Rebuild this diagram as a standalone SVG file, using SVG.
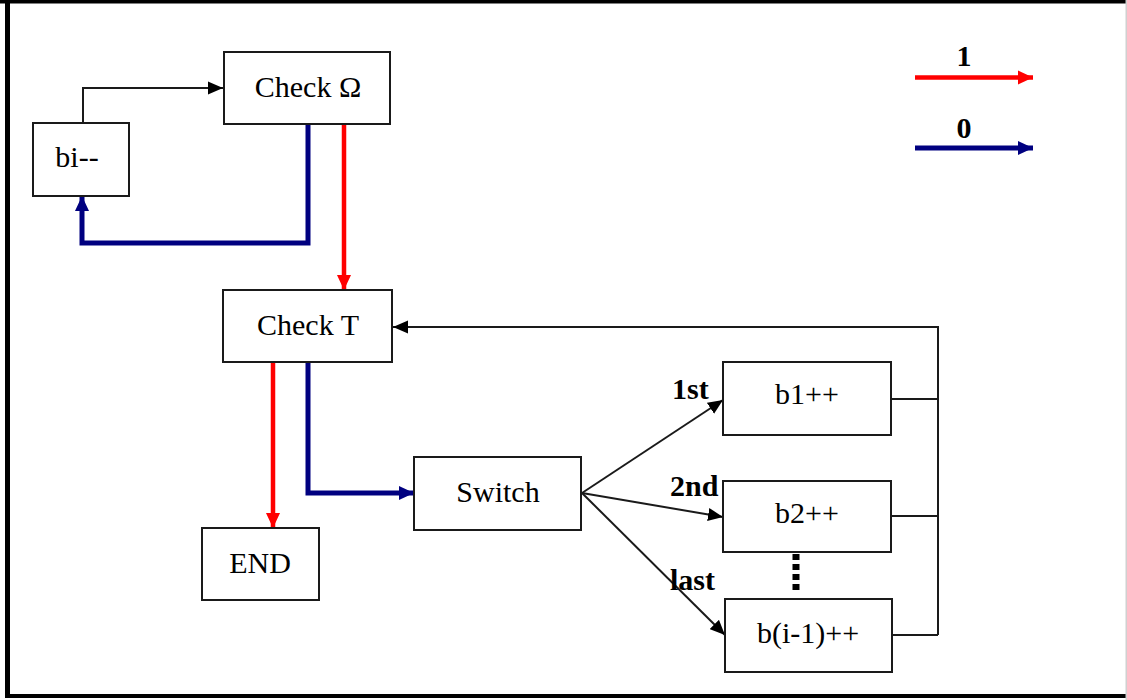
<svg xmlns="http://www.w3.org/2000/svg" width="1127" height="700" viewBox="0 0 1127 700">
<style>
.box{fill:#fff;stroke:#1a1a1a;stroke-width:2}
.t{font-family:"Liberation Serif","Times New Roman",serif;font-size:30px;fill:#000;text-anchor:middle}
.lb{font-family:"Liberation Serif","Times New Roman",serif;font-size:30px;font-weight:bold;fill:#000}
.k{fill:none;stroke:#1a1a1a;stroke-width:2}
.r{fill:none;stroke:#ff0000;stroke-width:4.5}
.b{fill:none;stroke:#000080;stroke-width:5}
</style>
<defs>
<marker id="ak" markerUnits="userSpaceOnUse" markerWidth="16" markerHeight="14" refX="15" refY="7" orient="auto"><path d="M0,0.5 L15,7 L0,13.5 z" fill="#000"/></marker>
<marker id="ar" markerUnits="userSpaceOnUse" markerWidth="16" markerHeight="15" refX="15" refY="7.5" orient="auto"><path d="M0,0.5 L15,7.5 L0,14.5 z" fill="#ff0000"/></marker>
<marker id="ab" markerUnits="userSpaceOnUse" markerWidth="16" markerHeight="15" refX="15" refY="7.5" orient="auto"><path d="M0,0.5 L15,7.5 L0,14.5 z" fill="#000080"/></marker>
</defs>
<rect x="0" y="0" width="1127" height="700" fill="#fff"/>
<g id="frame">
<rect x="0" y="0" width="1127" height="3.5" fill="#000"/>
<rect x="5" y="0" width="5" height="698" fill="#000"/>
<rect x="5" y="694" width="1122" height="4" fill="#000"/>
<rect x="1125.5" y="0" width="1.5" height="700" fill="#d0d0d0"/>
</g>
<g id="connectors">
<path class="k" d="M83,123 V88 H223" marker-end="url(#ak)"/>
<path class="b" d="M308,124 V243 H82 V196" marker-end="url(#ab)"/>
<path class="r" d="M344,124 V290" marker-end="url(#ar)"/>
<path class="r" d="M273,362 V528" marker-end="url(#ar)"/>
<path class="b" d="M308,362 V493 H414" marker-end="url(#ab)"/>
<path class="k" d="M582,493 L723,400" marker-end="url(#ak)"/>
<path class="k" d="M582,493 L723,517" marker-end="url(#ak)"/>
<path class="k" d="M582,493 L725,635" marker-end="url(#ak)"/>
<path class="k" d="M891,399 H938 M891,516 H938 M892,635 H938 M938,635 V327 H393" marker-end="url(#ak)"/>
<line x1="796" y1="554" x2="796" y2="592" stroke="#000" stroke-width="7" stroke-dasharray="6,4"/>
</g>
<g id="checkOmega"><rect class="box" x="224" y="52" width="166" height="72"/><text class="t" x="308" y="97">Check Ω</text></g>
<g id="biminus"><rect class="box" x="33" y="123" width="96" height="73"/><text class="t" x="77" y="167">bi--</text></g>
<g id="checkT"><rect class="box" x="223" y="290" width="169" height="72"/><text class="t" x="308" y="335">Check T</text></g>
<g id="end"><rect class="box" x="202" y="528" width="117" height="72"/><text class="t" x="260" y="573">END</text></g>
<g id="switch"><rect class="box" x="414" y="457" width="167" height="73"/><text class="t" x="498" y="502">Switch</text></g>
<g id="b1"><rect class="box" x="723" y="362" width="168" height="73"/><text class="t" x="807" y="404">b1++</text></g>
<g id="b2"><rect class="box" x="723" y="481" width="168" height="71"/><text class="t" x="807" y="523">b2++</text></g>
<g id="bi1"><rect class="box" x="725" y="599" width="167" height="73"/><text class="t" x="808" y="643">b(i-1)++</text></g>
<g id="labels">
<text class="lb" x="672" y="399">1st</text>
<text class="lb" x="670" y="496">2nd</text>
<text class="lb" x="670" y="590">last</text>
</g>
<g id="legend">
<path class="r" d="M915,77.5 H1033" marker-end="url(#ar)"/>
<text class="lb" x="964" y="66" text-anchor="middle" font-size="28">1</text>
<path class="b" d="M915,148 H1033" marker-end="url(#ab)"/>
<text class="lb" x="964" y="138" text-anchor="middle" font-size="28">0</text>
</g>
</svg>
